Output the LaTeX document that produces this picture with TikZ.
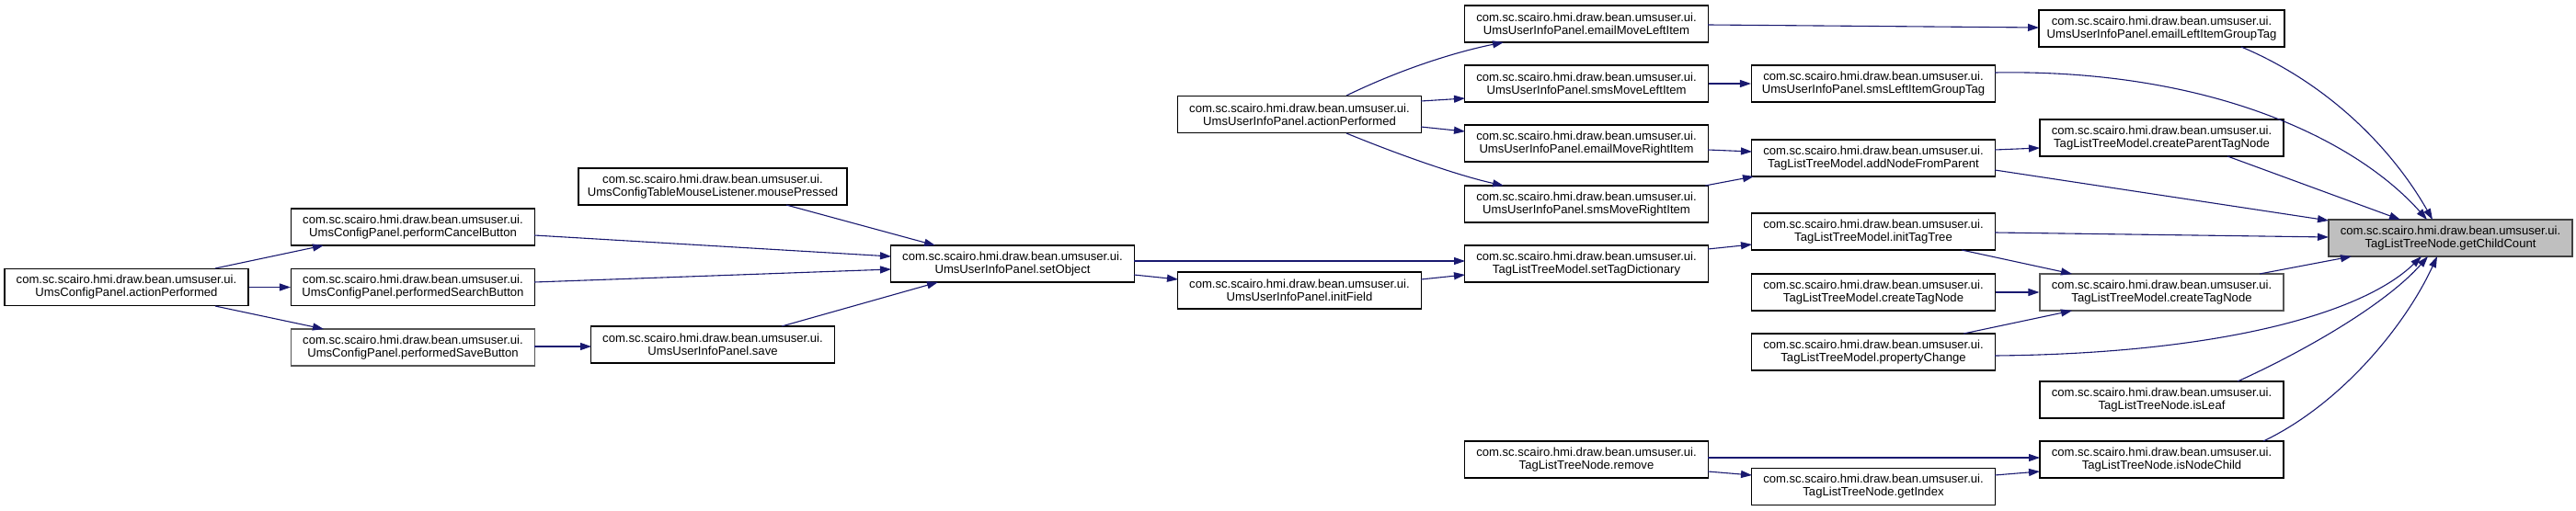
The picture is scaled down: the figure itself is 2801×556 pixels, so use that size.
\documentclass[tikz,border=0pt]{standalone}
\usepackage{fontspec}
\setmainfont{Liberation Sans}
\usetikzlibrary{arrows.meta,calc}
\definecolor{edgeblue}{HTML}{191970}
\definecolor{focusfill}{HTML}{BFBFBF}
\definecolor{focusdraw}{HTML}{404040}
\definecolor{greyborder}{HTML}{555555}
\begin{document}
\begin{tikzpicture}[x=1pt,y=-1pt,
  fn/.style={draw=black, line width=1.1pt, fill=white, rectangle,
    minimum width=265pt, minimum height=40pt, inner sep=0pt, align=center,
    font=\fontsize{13.1}{14}\selectfont},
  greyfn/.style={fn, draw=greyborder},
  focus/.style={fn, draw=focusdraw, fill=focusfill},
  e/.style={draw=edgeblue, line width=1.1pt, -{Triangle[length=12pt,width=8pt]}}]
\fill[white] (0,0) rectangle (2801,556);
\useasboundingbox (0,0) rectangle (2801,556);
\def\pk{com.sc.scairo.hmi.draw.bean.umsuser.ui.\\}
% column 1
\node[fn] (ucpAP) at (137.5,312.5) {\pk UmsConfigPanel.actionPerformed};
% column 2
\node[fn] (cancel) at (449,247) {\pk UmsConfigPanel.performCancelButton};
\node[fn] (search) at (449,312.5) {\pk UmsConfigPanel.performedSearchButton};
\node[greyfn] (saveBtn) at (449,378) {\pk UmsConfigPanel.performedSaveButton};
% column 3
\node[fn, minimum width=292pt] (mouse) at (775,203) {\pk UmsConfigTableMouseListener.mousePressed};
\node[fn] (save) at (775,375) {\pk UmsUserInfoPanel.save};
% column 4
\node[fn] (setObject) at (1101,287) {\pk UmsUserInfoPanel.setObject};
% column 5
\node[fn] (uipAP) at (1413,124.5) {\pk UmsUserInfoPanel.actionPerformed};
\node[fn] (initField) at (1413,316) {\pk UmsUserInfoPanel.initField};
% column 6
\node[fn] (eml) at (1725,26) {\pk UmsUserInfoPanel.emailMoveLeftItem};
\node[fn] (sml) at (1725,91) {\pk UmsUserInfoPanel.smsMoveLeftItem};
\node[fn] (emr) at (1725,156) {\pk UmsUserInfoPanel.emailMoveRightItem};
\node[fn] (smr) at (1725,222) {\pk UmsUserInfoPanel.smsMoveRightItem};
\node[fn] (std) at (1725,287) {\pk TagListTreeModel.setTagDictionary};
\node[fn] (remove) at (1725,500) {\pk TagListTreeNode.remove};
% column 7
\node[fn] (slg) at (2037,91) {\pk UmsUserInfoPanel.smsLeftItemGroupTag};
\node[fn] (anfp) at (2037,172) {\pk TagListTreeModel.addNodeFromParent};
\node[fn] (itt) at (2037,252) {\pk TagListTreeModel.initTagTree};
\node[fn] (ctnA) at (2037,318) {\pk TagListTreeModel.createTagNode};
\node[fn] (pc) at (2037,383) {\pk TagListTreeModel.propertyChange};
\node[fn] (gi) at (2037,529.5) {\pk TagListTreeNode.getIndex};
% column 8
\node[fn, minimum width=267pt] (elg) at (2350.5,31) {\pk UmsUserInfoPanel.emailLeftItemGroupTag};
\node[fn] (cptn) at (2350.5,150) {\pk TagListTreeModel.createParentTagNode};
\node[greyfn] (ctnB) at (2350.5,318) {\pk TagListTreeModel.createTagNode};
\node[fn] (leaf) at (2350.5,435) {\pk TagListTreeNode.isLeaf};
\node[fn] (inc) at (2350.5,500) {\pk TagListTreeNode.isNodeChild};
% column 9
\node[focus] (gcc) at (2664.5,259) {\pk TagListTreeNode.getChildCount};

% edges
\draw[e] ($(ucpAP)+(96.5,-20.5)$) -- ($(cancel)+(-97,20)$);
\draw[e] (ucpAP.east) -- (search.west);
\draw[e] ($(ucpAP)+(96.5,20.5)$) -- ($(saveBtn)+(-97,-20)$);
\draw[e] ($(cancel)+(132,9)$) -- ($(setObject)+(-132,-8)$);
\draw[e] ($(search)+(132,-5.5)$) -- ($(setObject)+(-132,6)$);
\draw[e] ($(saveBtn)+(132,-1)$) -- ($(save)+(-132,2)$);
\draw[e] ($(save)+(75,-20)$) -- ($(setObject)+(-81,20)$);
\draw[e] ($(mouse)+(80,20)$) -- ($(setObject)+(-84,-20)$);
\draw[e] ($(setObject)+(132,-3)$) -- ($(std)+(-132,-3)$);
\draw[e] ($(setObject)+(132,12)$) -- ($(initField)+(-132,-12)$);
\draw[e] ($(initField)+(132,-12)$) -- ($(std)+(-132,12)$);
\draw[e] ($(uipAP)+(51,-20.5)$) .. controls (1530,72) and (1590,55) .. ($(eml)+(-90,20)$);
\draw[e] ($(uipAP)+(132,-14.5)$) -- ($(sml)+(-132,16)$);
\draw[e] ($(uipAP)+(132,13.5)$) -- ($(emr)+(-132,-13)$);
\draw[e] ($(uipAP)+(51,20.5)$) .. controls (1530,172) and (1590,192) .. ($(smr)+(-90,-20)$);
\draw[e] ($(eml)+(132,1)$) -- ($(elg)+(-133.5,-1)$);
\draw[e] (sml.east) -- (slg.west);
\draw[e] ($(emr)+(132,7)$) -- ($(anfp)+(-132,-7)$);
\draw[e] ($(smr)+(129,-20)$) -- ($(anfp)+(-130,20)$);
\draw[e] ($(std)+(132,-16)$) -- ($(itt)+(-132,14)$);
\draw[e] ($(slg)+(132,-12)$) .. controls (2400,75) and (2560,150) .. ($(gcc)+(-25.5,-20)$);
\draw[e] ($(elg)+(86.5,20)$) .. controls (2530,90) and (2600,160) .. ($(gcc)+(-19.5,-20)$);
\draw[e] ($(anfp)+(132,-9)$) -- ($(cptn)+(-132.5,11)$);
\draw[e] ($(cptn)+(71.5,20)$) -- ($(gcc)+(-54.5,-20)$);
\draw[e] ($(anfp)+(132,13)$) -- ($(gcc)+(-132.5,-19)$);
\draw[e] ($(itt)+(132,1)$) -- ($(gcc)+(-132.5,-1)$);
\draw[e] ($(itt)+(96,20)$) -- ($(ctnB)+(-97.5,-20)$);
\draw[e] (ctnA.east) -- (ctnB.west);
\draw[e] ($(pc)+(98,-20)$) -- ($(ctnB)+(-97.5,20)$);
\draw[e] ($(ctnB)+(106.5,-20)$) -- ($(gcc)+(-107.5,20)$);
\draw[e] ($(pc)+(132,4)$) .. controls (2400,385) and (2565,345) .. ($(gcc)+(-31.5,20)$);
\draw[e] ($(leaf)+(82.5,-20)$) .. controls (2510,380) and (2595,330) .. ($(gcc)+(-24.5,20)$);
\draw[e] ($(inc)+(110.5,-20)$) .. controls (2545,440) and (2615,355) .. ($(gcc)+(-14.5,20)$);
\draw[e] ($(remove)+(132,-2)$) -- ($(inc)+(-132.5,-2)$);
\draw[e] ($(remove)+(132,13)$) -- ($(gi)+(-132,-12.5)$);
\draw[e] ($(gi)+(132,-12.5)$) -- ($(inc)+(-132.5,13)$);
\end{tikzpicture}
\end{document}
